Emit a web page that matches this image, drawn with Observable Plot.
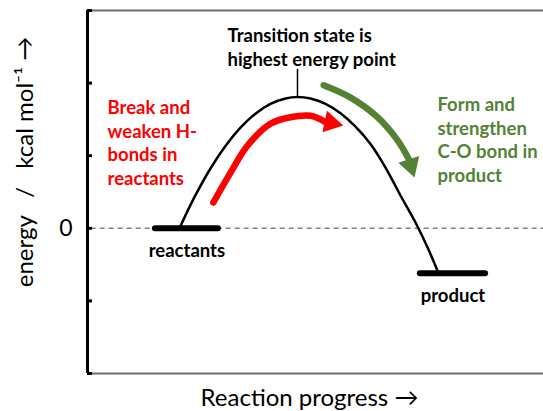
<!DOCTYPE html>
<html><head><meta charset="utf-8">
<script src="https://cdn.jsdelivr.net/npm/d3@7"></script>
<script src="https://cdn.jsdelivr.net/npm/@observablehq/plot@0.6"></script>
<style>
html,body{margin:0;padding:0;background:#fff;}
#chart{width:543px;height:411px;}
</style></head><body><div id="chart"></div>
<script>
// ---- data ----
const yTicks = [-20, -10, 0, 10, 20, 30];
const yTickLabels = [0];
const levelNames = ["reactants", "product"];
const levelEnergy = [0, -6.2];
const levelFrom = [14.9, 73.0];
const levelTo = [28.7, 87.3];
const curveX = [20.18, 21.49, 23.68, 26.97, 30.26, 33.55, 36.84, 40.13, 43.42, 46.05, 48.90, 52.19, 55.48, 58.77, 62.06, 65.35, 68.64, 71.93, 74.78, 76.97];
const curveY = [0, 1.78, 4.56, 8.24, 11.35, 13.86, 15.79, 17.13, 17.89, 18.09, 17.88, 17.13, 15.84, 14.0, 11.61, 8.37, 4.52, 0.80, -2.92, -6.2];
const peakX = 46.05;
const peakTick = [18.1, 21.9];
const redArrowX = [27.6, 31.4, 35.1, 40.1, 44.5, 48.9, 52.0];
const redArrowY = [3.55, 7.7, 11.4, 14.4, 15.3, 15.5, 14.7];
const redTip = [56.1, 14.16];
const greenArrowX = [51.8, 57.7, 63.6, 68.0, 70.4];
const greenArrowY = [19.7, 18.0, 15.3, 12.1, 9.6];
const greenTip = [71.7, 7.0];
const tsText = "Transition state is\nhighest energy point";
const redText = "Break and\nweaken H-\nbonds in\nreactants";
const greenText = "Form and\nstrengthen\nC-O bond in\nproduct";
const xLabel = "Reaction progress \u2192";
const yLabel = "energy \u2002/\u2002 kcal mol\u207B\u00B9 \u2192";
const annotations = [
  {x: 30.7, y: 27.9, text: tsText, color: "#000000"},
  {x: 4.4, y: 18.0, text: redText, color: "#ff0000"},
  {x: 76.75, y: 18.4, text: greenText, color: "#548235"}
];

// ---- layout ----
const W = 543, H = 411, mL = 87, mR = 0, mT = 10, mB = 38;
const xDomain = [0, 100], yDomain = [-20, 30];
const kx = (W - mL - mR) / (xDomain[1] - xDomain[0]);
const ky = (H - mT - mB) / (yDomain[1] - yDomain[0]);
const FONT = "Lato, 'Open Sans', sans-serif";

const curve = curveX.map((x, i) => ({x, y: curveY[i]}));
const levels = levelNames.map((name, i) => ({name, y: levelEnergy[i], x1: levelFrom[i], x2: levelTo[i], xm: (levelFrom[i] + levelTo[i]) / 2}));
const redPts = redArrowX.map((x, i) => ({x, y: redArrowY[i]}));
const greenPts = greenArrowX.map((x, i) => ({x, y: greenArrowY[i]}));

const HEAD = 19;
function head(pts, tip, color) {
  const b = pts[pts.length - 1];
  const dxp = (tip[0] - b.x) * kx, dyp = -(tip[1] - b.y) * ky;
  const L = Math.hypot(dxp, dyp);
  const ux = dxp / L, uy = dyp / L;
  const cx = tip[0] * kx - (2 / 3) * HEAD * ux;
  const cyp = -tip[1] * ky - (2 / 3) * HEAD * uy;
  return {x: cx / kx, y: -cyp / ky, rotate: Math.atan2(dyp, dxp) * 180 / Math.PI + 90, color};
}
const heads = [head(redPts, redTip, "#ff0000"), head(greenPts, greenTip, "#548235")];

const plot = Plot.plot({
  width: W, height: H,
  marginLeft: mL, marginRight: mR, marginTop: mT, marginBottom: mB,
  x: {domain: xDomain, axis: null},
  y: {domain: yDomain, axis: null},
  style: {fontFamily: FONT, background: "#fff", overflow: "visible"},
  marks: [
    Plot.ruleY([yDomain[1], yDomain[0]], {stroke: "#6e6e6e", strokeWidth: 2}),
    Plot.ruleY([0], {x1: 0.8, x2: xDomain[1], stroke: "#808080", strokeWidth: 1.5, strokeDasharray: "5,4"}),
    Plot.ruleX([0], {stroke: "#000", strokeWidth: 3}),
    Plot.ruleY(yTicks, {x1: 0, x2: 5 / kx, stroke: "#000", strokeWidth: 3}),
    Plot.text(yTickLabels, {x: 0, y: d => d, text: d => String(d), textAnchor: "end", dx: -15, fontSize: 23, fill: "#000"}),
    Plot.line(curve, {x: "x", y: "y", curve: "catmull-rom", stroke: "#000", strokeWidth: 2.5}),
    Plot.ruleX([peakX], {y1: peakTick[0], y2: peakTick[1], stroke: "#000", strokeWidth: 1.5}),
    Plot.ruleY(levels, {x1: "x1", x2: "x2", y: "y", stroke: "#000", strokeWidth: 6, strokeLinecap: "round"}),
    Plot.text(levels, {x: "xm", y: "y", text: "name", lineAnchor: "top", dy: 16, fontSize: 18.5, fontWeight: "bold", fill: "#000"}),
    Plot.line(redPts, {x: "x", y: "y", curve: "catmull-rom", stroke: "#ff0000", strokeWidth: 6.5}),
    Plot.line(greenPts, {x: "x", y: "y", curve: "catmull-rom", stroke: "#548235", strokeWidth: 6.5}),
    Plot.dot(heads, {x: "x", y: "y", r: HEAD / 2.333, rotate: "rotate", symbol: "triangle", fill: "color", stroke: "none"}),
    Plot.text(annotations, {x: "x", y: "y", text: "text", fill: "color", textAnchor: "start", lineAnchor: "top", fontSize: 18.5, fontWeight: "bold", lineHeight: 1.27}),
    Plot.text([xLabel], {frameAnchor: "bottom", text: d => d, textAnchor: "middle", lineAnchor: "middle", dx: -6, dy: 25, fontSize: 24, fill: "#000"}),
    Plot.text([yLabel], {frameAnchor: "left", text: d => d, textAnchor: "middle", lineAnchor: "middle", rotate: -90, dx: -62, dy: -30, fontSize: 24, fill: "#000"})
  ]
});
document.getElementById("chart").appendChild(plot);
</script>
</body></html>
